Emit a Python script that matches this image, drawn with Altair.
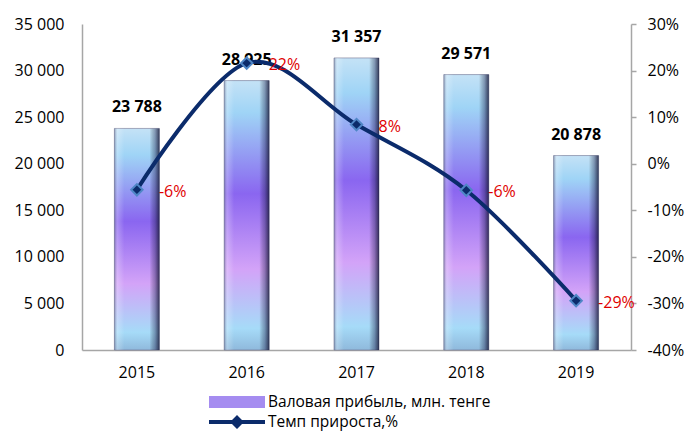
import altair as alt
import pandas as pd

# ---- data ----
years = ["2015", "2016", "2017", "2018", "2019"]
profit = [23788, 28925, 31357, 29571, 20878]
growth = [-0.056, 0.216, 0.084, -0.057, -0.294]
series = ["Валовая прибыль, млн. тенге", "Темп прироста,%"]
left_ticks = [0, 5000, 10000, 15000, 20000, 25000, 30000, 35000]
right_ticks = [-0.4, -0.3, -0.2, -0.1, 0, 0.1, 0.2, 0.3]

df = pd.DataFrame({"year": years, "profit": profit, "growth": growth})
leg = pd.DataFrame({"series": series})

FONT = "Open Sans"
AXC = "#a6a6a6"
NAVY = "#0b2b6b"

grad_v = {
    "gradient": "linear", "x1": 0, "y1": 0, "x2": 0, "y2": 1,
    "stops": [
        {"offset": 0.0, "color": "#c4e2f6"},
        {"offset": 0.12, "color": "#9fd4f6"},
        {"offset": 0.42, "color": "#8a66f0"},
        {"offset": 0.70, "color": "#d3a3f8"},
        {"offset": 0.92, "color": "#a6dbf8"},
        {"offset": 1.0, "color": "#8fb9dc"},
    ],
}
grad_h = {
    "gradient": "linear", "x1": 0, "y1": 0, "x2": 1, "y2": 0,
    "stops": [
        {"offset": 0.0, "color": "rgba(90,95,130,0.55)"},
        {"offset": 0.07, "color": "rgba(255,255,255,0.25)"},
        {"offset": 0.22, "color": "rgba(255,255,255,0)"},
        {"offset": 0.78, "color": "rgba(0,0,0,0)"},
        {"offset": 0.9, "color": "rgba(20,20,60,0.35)"},
        {"offset": 1.0, "color": "rgba(20,20,50,0.8)"},
    ],
}

x_enc = alt.X(
    "year:N",
    scale=alt.Scale(paddingInner=0, paddingOuter=0),
    axis=alt.Axis(title=None, labelAngle=0, ticks=False, domainColor=AXC,
                  domainWidth=1.5, labelFont=FONT, labelFontSize=16,
                  labelColor="black", labelPadding=14, grid=False),
)
x_plain = alt.X("year:N")

yL = alt.Y(
    "profit:Q",
    scale=alt.Scale(domain=[0, 35000], nice=False),
    axis=alt.Axis(values=left_ticks, title=None, ticks=False, grid=False,
                  domainColor=AXC, domainWidth=1.5, labelFont=FONT,
                  labelFontSize=16, labelColor="black", labelPadding=18,
                  labelExpr="replace(format(datum.value, ','), ',', ' ')"),
)
yL_plain = alt.Y("profit:Q")

yR = alt.Y(
    "growth:Q",
    scale=alt.Scale(domain=[-0.4, 0.3], nice=False),
    axis=alt.Axis(orient="right", values=right_ticks, title=None,
                  grid=False, tickSize=5, tickColor=AXC, tickWidth=1.5,
                  domainColor=AXC, domainWidth=1.5, labelFont=FONT,
                  labelFontSize=16, labelColor="black", labelPadding=11,
                  labelExpr="replace(format(datum.value, '.0%'), '\u2212', '-')"),
)
yR_plain = alt.Y("growth:Q")

base = alt.Chart(df)

bars = base.mark_bar(size=45, color=grad_v, stroke="#6f7290",
                     strokeWidth=0.6).encode(x=x_enc, y=yL)
bars_shade = base.mark_bar(size=45, color=grad_h).encode(x=x_plain, y=yL_plain)
bar_labels = base.transform_calculate(
    lbl="replace(format(datum.profit, ','), ',', ' ')"
).mark_text(font=FONT, fontSize=16, fontWeight="bold", color="black",
            baseline="alphabetic", dy=-16).encode(
    x=x_plain, y=yL_plain, text="lbl:N")

legend_cfg = alt.Legend(
    title=None, orient="none", legendX=145, legendY=368, direction="vertical",
    symbolSize=400, labelOffset=21, rowPadding=1, padding=0,
    labelFont=FONT, labelFontSize=15.5, labelColor="black", labelLimit=400,
    symbolStrokeWidth=0,
)
p_bar = "M-2.8,-0.6H2.8V0.6H-2.8Z"
p_line = "M-2.8,-0.2H-0.5L0,-0.7L0.5,-0.2H2.8V0.2H0.5L0,0.7L-0.5,0.2H-2.8Z"
dummy = alt.Chart(leg).transform_filter("false").mark_point(
    filled=True, opacity=1).encode(
    color=alt.Color("series:N", scale=alt.Scale(domain=series,
                    range=["#a58cf0", NAVY]), legend=legend_cfg),
    shape=alt.Shape("series:N", scale=alt.Scale(domain=series,
                    range=[p_bar, p_line]), legend=legend_cfg),
)

line = base.mark_line(color=NAVY, strokeWidth=4, interpolate="cardinal").encode(
    x=x_plain, y=yR)
pts = base.mark_point(shape="diamond", filled=True, size=130, fill=NAVY,
                      stroke="#4f86c6", strokeWidth=2, opacity=1).encode(
    x=x_plain, y=yR_plain)
pct = base.transform_calculate(
    plbl="replace(format(datum.growth, '.0%'), '\u2212', '-')"
).mark_text(font=FONT, fontSize=16, color="#e00000", align="left",
            baseline="middle", dx=22, dy=2).encode(
    x=x_plain, y=yR_plain, text="plbl:N")

bar_group = alt.layer(bars, bars_shade, bar_labels, dummy)
line_group = alt.layer(line, pts, pct)

chart = alt.layer(bar_group, line_group).resolve_scale(
    y="independent"
).properties(
    width=549, height=326,
    padding={"left": 82, "top": 24, "right": 56, "bottom": 83},
    autosize="none", background="white",
).configure_view(stroke=None)

chart.save("out.html", embed_options={"renderer": "svg", "actions": False})
